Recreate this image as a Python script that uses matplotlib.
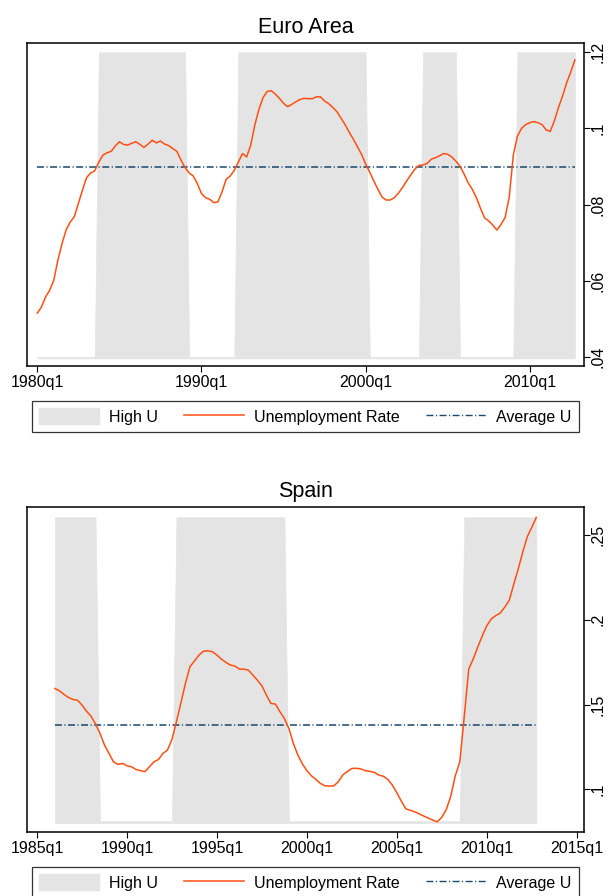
import numpy as np
import matplotlib
matplotlib.use("Agg")
import matplotlib.pyplot as plt
from matplotlib.patches import Patch
from matplotlib.lines import Line2D

plt.rcParams['font.family'] = ['Liberation Sans', 'DejaVu Sans']
plt.rcParams['lines.scale_dashes'] = False

# Euro Area unemployment rate, quarterly 1980q1 - 2012q4
euro_start = "1980q1"
euro_u = [
    0.0515, 0.0531, 0.0557, 0.0575, 0.0601, 0.0654, 0.0697, 0.0733, 0.0754, 0.0768,
    0.0803, 0.0838, 0.0871, 0.0883, 0.0889, 0.0912, 0.0930, 0.0936, 0.0940, 0.0954,
    0.0965, 0.0958, 0.0956, 0.0961, 0.0965, 0.0958, 0.0950, 0.0959, 0.0969, 0.0962,
    0.0967, 0.0959, 0.0955, 0.0947, 0.0940, 0.0917, 0.0897, 0.0883, 0.0875, 0.0855,
    0.0829, 0.0818, 0.0814, 0.0805, 0.0807, 0.0833, 0.0866, 0.0875, 0.0890, 0.0912,
    0.0934, 0.0925, 0.0956, 0.1009, 0.1050, 0.1081, 0.1097, 0.1099, 0.1090, 0.1079,
    0.1066, 0.1057, 0.1063, 0.1070, 0.1076, 0.1079, 0.1078, 0.1078, 0.1083, 0.1083,
    0.1072, 0.1065, 0.1055, 0.1044, 0.1027, 0.1010, 0.0990, 0.0972, 0.0952, 0.0932,
    0.0907, 0.0885, 0.0862, 0.0840, 0.0820, 0.0812, 0.0812, 0.0818, 0.0830, 0.0845,
    0.0862, 0.0878, 0.0893, 0.0903, 0.0904, 0.0908, 0.0919, 0.0923, 0.0928, 0.0934,
    0.0932, 0.0925, 0.0914, 0.0901, 0.0880, 0.0857, 0.0840, 0.0818, 0.0790, 0.0765,
    0.0757, 0.0746, 0.0733, 0.0748, 0.0766, 0.0820, 0.0930, 0.0980, 0.1000, 0.1010,
    0.1015, 0.1018, 0.1015, 0.1010, 0.0996, 0.0992, 0.1020, 0.1055, 0.1085, 0.1120,
    0.1148, 0.1180,
]
euro_avg = 0.0899
euro_high = [("1983q4", "1989q1"), ("1992q2", "2000q1"),
             ("2003q3", "2005q3"), ("2009q2", "2012q4")]
euro_area_top, euro_area_low, euro_area_base = 0.12, 0.040, 0.0396
euro_xticks = ["1980q1", "1990q1", "2000q1", "2010q1"]
euro_yticks = [0.04, 0.06, 0.08, 0.10, 0.12]
euro_ylabels = [".04", ".06", ".08", ".1", ".12"]

# Spain unemployment rate, quarterly 1986q1 - 2012q4
spain_start = "1986q1"
spain_u = [
    0.1595, 0.1581, 0.1560, 0.1542, 0.1530, 0.1526, 0.1497, 0.1461, 0.1432, 0.1385,
    0.1330, 0.1261, 0.1212, 0.1162, 0.1147, 0.1153, 0.1139, 0.1133, 0.1117, 0.1110,
    0.1104, 0.1133, 0.1162, 0.1176, 0.1212, 0.1231, 0.1294, 0.1399, 0.1511, 0.1625,
    0.1723, 0.1757, 0.1792, 0.1815, 0.1817, 0.1812, 0.1792, 0.1768, 0.1749, 0.1733,
    0.1727, 0.1709, 0.1709, 0.1703, 0.1674, 0.1644, 0.1611, 0.1556, 0.1507, 0.1503,
    0.1458, 0.1418, 0.1359, 0.1271, 0.1202, 0.1150, 0.1110, 0.1080, 0.1058, 0.1035,
    0.1021, 0.1019, 0.1020, 0.1045, 0.1085, 0.1105, 0.1123, 0.1124, 0.1120, 0.1110,
    0.1106, 0.1100, 0.1084, 0.1077, 0.1058, 0.1025, 0.0980, 0.0930, 0.0885, 0.0876,
    0.0867, 0.0855, 0.0842, 0.0830, 0.0818, 0.0808, 0.0835, 0.0880, 0.0960, 0.1080,
    0.1160, 0.1430, 0.1710, 0.1770, 0.1840, 0.1905, 0.1965, 0.2005, 0.2025, 0.2040,
    0.2075, 0.2115, 0.2210, 0.2300, 0.2400, 0.2490, 0.2545, 0.2604,
]
spain_avg = 0.1381
spain_high = [("1986q1", "1988q2"), ("1992q4", "1998q4"), ("2008q4", "2012q4")]
spain_area_top, spain_area_low, spain_area_base = 0.2605, 0.0812, 0.0800
spain_xticks = ["1985q1", "1990q1", "1995q1", "2000q1", "2005q1", "2010q1", "2015q1"]
spain_yticks = [0.10, 0.15, 0.20, 0.25]
spain_ylabels = [".1", ".15", ".2", ".25"]

ORANGE = "#ff4f12"
NAVY = "#1a476f"
GRAY = "#e4e4e4"
DASHDOT = (0, (5.0, 1.8, 0.8, 1.8))
FS = 11.5


def tq(s):
    # quarter label -> running quarter number
    y, q = s.split("q")
    return int(y) * 4 + int(q) - 1


def panel(ax, title, start, u, avg, high, top, low, base, xticks, yticks, ylabels,
          xlim, ylim, title_y):
    x = np.arange(len(u)) + tq(start)
    ind = np.full(len(u), low)
    for a, b in high:
        ind[(x >= tq(a)) & (x <= tq(b))] = top
    ax.fill_between(x, base, ind, facecolor=GRAY, edgecolor=GRAY, lw=0.5, zorder=1)
    ax.plot(x, u, color=ORANGE, lw=1.1, zorder=3)
    ax.plot([x[0], x[-1]], [avg, avg], color=NAVY, lw=1.1, linestyle=DASHDOT, zorder=2)

    ax.set_xlim(tq(start) + xlim[0], tq(start) + xlim[1])
    ax.set_ylim(*ylim)
    ax.set_xticks([tq(t) for t in xticks])
    ax.set_xticklabels(xticks)
    ax.yaxis.tick_right()
    ax.set_yticks(yticks)
    ax.set_yticklabels(ylabels, rotation=90, va="center")
    ax.tick_params(axis="both", labelsize=FS, length=4, width=0.8, color="black")
    ax.tick_params(axis="x", pad=2.5)
    ax.tick_params(axis="y", pad=0.6)
    for sp in ax.spines.values():
        sp.set_linewidth(1.1)
        sp.set_color("black")
    fig.text(0.5015, title_y, title, ha="center", va="center", fontsize=15.5)


fig = plt.figure(figsize=(6.09, 8.96), dpi=100)

ax1 = fig.add_axes([0.0438, 0.5915, 0.915, 0.3608])
panel(ax1, "Euro Area", euro_start, euro_u, euro_avg, euro_high,
      euro_area_top, euro_area_low, euro_area_base, euro_xticks,
      euro_yticks, euro_ylabels, (-2.6, 133.2), (0.0376, 0.1225), 0.9695)

ax2 = fig.add_axes([0.0438, 0.0718, 0.915, 0.362])
panel(ax2, "Spain", spain_start, spain_u, spain_avg, spain_high,
      spain_area_top, spain_area_low, spain_area_base, spain_xticks,
      spain_yticks, spain_ylabels, (-6.3, 117.6), (0.075, 0.2664), 0.4513)

handles = [Patch(facecolor=GRAY, edgecolor=GRAY),
           Line2D([], [], color=ORANGE, lw=1.1),
           Line2D([], [], color=NAVY, lw=1.0, linestyle=DASHDOT)]
labels = ["High U", "Unemployment Rate", "Average U"]
for yc in (0.5352, 0.0150):
    leg = fig.legend(handles, labels, loc="center", bbox_to_anchor=(0.5015, yc),
                     ncol=3, fontsize=FS, frameon=True, fancybox=False,
                     handlelength=3.75, handleheight=1.15, handletextpad=0.62,
                     columnspacing=1.65, borderpad=0.45)
    leg.get_frame().set_edgecolor("black")
    leg.get_frame().set_linewidth(0.9)

fig.savefig("out.png", dpi=100)
